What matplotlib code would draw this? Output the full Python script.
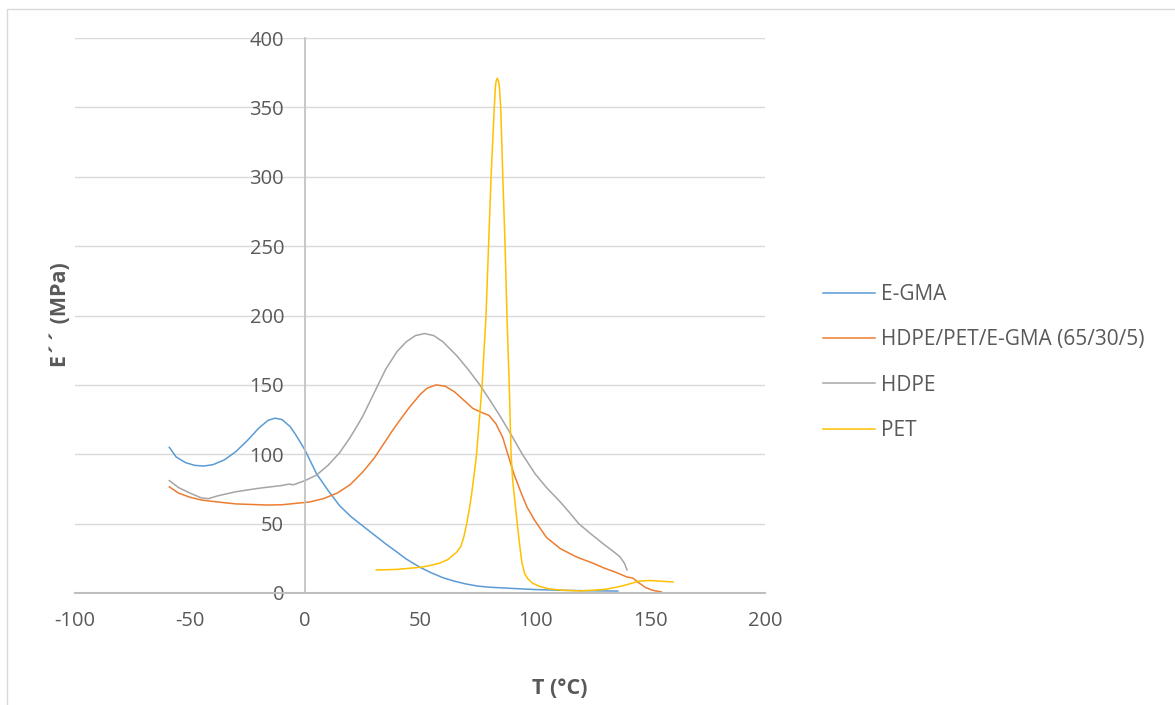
import matplotlib
matplotlib.use("Agg")
import matplotlib.pyplot as plt
from matplotlib.patches import Rectangle

plt.rcParams['font.family'] = ['Open Sans', 'DejaVu Sans']
plt.rcParams['axes.unicode_minus'] = False

# ---- data ----
egma_T = [-59, -56, -52, -48, -44, -40, -35, -30, -25, -20, -16, -13, -10, -6.5, -4, 0, 5, 10, 15,
          20, 25, 30, 35, 40, 44, 50, 55, 60, 65, 70, 75, 80, 90, 100, 110, 120, 130, 136]
egma_E = [105, 98, 94, 92, 91.5, 92.5, 96, 102, 110, 119, 124.5, 126, 125, 120, 114, 103, 86, 74, 63,
          55, 48.5, 42, 35.5, 29.5, 24.5, 18.5, 14.5, 11, 8.5, 6.5, 5, 4.2, 3.3, 2.5, 2.0, 1.7, 1.5, 1.4]

blend_T = [-59, -55, -50, -45, -38, -30, -16.5, -10, 2, 8, 14, 19.6, 25, 30, 34, 38, 41, 45, 50, 53,
           57, 61, 65, 69, 73, 77, 80, 83, 86, 88, 91, 94, 96.5, 100, 105, 111, 118, 125, 130, 135,
           140, 142.5, 145, 148, 151, 155]
blend_E = [76.5, 72, 69, 67, 65.6, 64.2, 63.4, 63.6, 65.6, 68, 72, 78, 87, 97, 107, 117, 124, 133, 143, 147.5,
           150, 149, 145, 139, 133, 130, 128, 122, 112, 101, 85, 72, 62, 52, 40, 32, 26, 21.6, 18, 15,
           11.5, 10.8, 7.5, 4, 2, 0.7]

hdpe_T = [-59, -55, -50, -45, -42, -38, -30, -20, -10, -7, -5, 0, 5, 10, 15, 19.6, 25, 30, 35, 40, 44,
          48, 52, 56, 60, 66, 71, 76, 80, 85, 90, 94.5, 100, 105, 111, 115, 119, 124, 130, 134, 137,
          139, 140]
hdpe_E = [81, 76, 72, 68.5, 68, 70, 73, 75.5, 77.5, 78.5, 78, 81, 85, 92, 101, 112, 127, 144, 161, 174, 181,
          185.5, 187, 185.5, 181, 171, 161, 150, 140, 127, 113, 100, 86, 76, 65.6, 58, 50, 43, 35, 30, 26,
          21, 16.6]

pet_T = [31, 40, 50, 55, 58.7, 62, 64.5, 66, 67.7, 69, 70.3, 71.5, 72.5, 73.2, 74.6, 77, 78.7, 79.8,
         80.9, 82.3, 82.8, 83.1, 83.6, 84.1, 84.5, 85.1, 86, 87, 87.8, 88.8, 89.6, 90.3, 92.3, 93.3,
         94.3, 95.5, 97, 99, 102, 106, 112, 120, 130, 135, 140, 145, 150, 160]
pet_E = [16.6, 17, 18.5, 20, 21.6, 24, 27.4, 29.5, 33.4, 40, 50, 61, 72, 81, 100, 150, 200, 250,
         300, 350, 365, 369, 371, 369, 365, 350, 300, 250, 200, 150, 100, 81, 50, 35,
         22, 14, 10, 7, 4.8, 3, 2, 1.5, 2.5, 4, 6, 8.5, 9, 8]

series_names = ["E-GMA", "HDPE/PET/E-GMA (65/30/5)", "HDPE", "PET"]
series_colors = ["#5B9BD5", "#ED7D31", "#A5A5A5", "#FFC000"]
x_ticks = [-100, -50, 0, 50, 100, 150, 200]
y_ticks = [0, 50, 100, 150, 200, 250, 300, 350, 400]

# ---- figure ----
W, H = 1175, 705
fig = plt.figure(figsize=(W / 100, H / 100), dpi=100)
ax = fig.add_axes([75 / W, 1 - 593 / H, 690 / W, 555 / H])

data = [(egma_T, egma_E), (blend_T, blend_E), (hdpe_T, hdpe_E), (pet_T, pet_E)]
for (t, e), name, c in zip(data, series_names, series_colors):
    ax.plot(t, e, color=c, lw=1.1, label=name, solid_joinstyle='round')

ax.set_xlim(-100, 200)
ax.set_ylim(0, 400)
ax.set_xticks(x_ticks)
ax.set_yticks(y_ticks)
ax.grid(axis='y', color='#D9D9D9', lw=1)
ax.set_axisbelow(True)
for s in ['top', 'right']:
    ax.spines[s].set_visible(False)
ax.spines['left'].set_position(('data', 0))
ax.spines['left'].set_color('#BFBFBF')
ax.spines['left'].set_linewidth(1.2)
ax.spines['bottom'].set_color('#BFBFBF')
ax.spines['bottom'].set_linewidth(1.5)
ax.tick_params(axis='both', length=0, labelsize=14.5, labelcolor='#595959')
ax.tick_params(axis='y', pad=15)
ax.tick_params(axis='x', pad=13)

fig.text(60 / W, 1 - 315 / H, "E´´ (MPa)", rotation=90, ha='center', va='center',
         fontsize=15.5, fontweight='bold', color='#595959')
fig.text(560 / W, 1 - 688 / H, "T (°C)", ha='center', va='center',
         fontsize=15.5, fontweight='bold', color='#595959')

leg = fig.legend(loc='upper left', bbox_to_anchor=(823 / W, 1 - 284 / H), frameon=False,
                 fontsize=15, handlelength=2.5, handletextpad=0.3, labelspacing=1.17,
                 borderaxespad=0, borderpad=0)
for txt in leg.get_texts():
    txt.set_color('#595959')

fig.patches.append(Rectangle((7 / W, -0.01), 1.0, 1 - 9 / H + 0.01, transform=fig.transFigure,
                             fill=False, edgecolor='#D9D9D9', lw=1))

fig.savefig("out.png", dpi=100)
